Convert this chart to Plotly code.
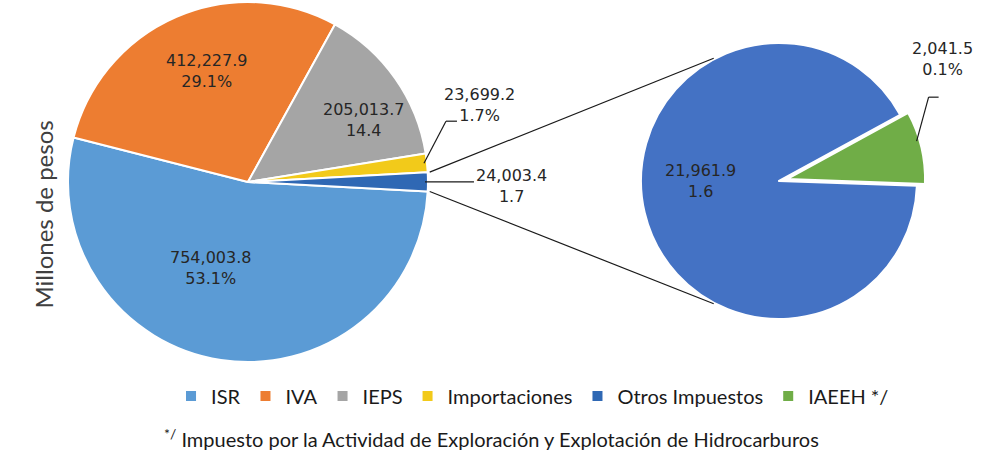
import math
import plotly.graph_objects as go

W, H = 988, 456

# ---- data ----
main_labels = ["ISR", "IVA", "IEPS", "Importaciones", "Otros Impuestos"]
main_values = [754003.8, 412227.9, 205013.7, 23699.2, 24003.4]
main_pct = ["53.1%", "29.1%", "14.4", "1.7%", "1.7"]
main_colors = ["#5B9BD5", "#ED7D31", "#A5A5A5", "#F2CA1A", "#2F68B4"]

sec_labels = ["Otros Impuestos", "IAEEH */"]
sec_values = [21961.9, 2041.5]
sec_pct = ["1.6", "0.1%"]
sec_colors = ["#4472C4", "#70AD47"]
sec_pull = [0, 0.06]

footnote = "<sup>*/</sup> Impuesto por la Actividad de Exploración y Explotación de Hidrocarburos"
ytitle = "Millones de pesos"

# ---- layout of pies (paper domains) ----
main_dom = dict(x=[0.0688, 0.4332], y=[0.2062, 0.9956])
sec_dom = dict(x=[0.6404, 0.9365], y=[0.2823, 0.9239])
main_rot = 93
sec_rot = 92

# inside-label placement: (radius fraction, angle offset in degrees)
main_inside = {0: (0.52, 15), 1: (0.66, 3), 2: (0.73, 7)}
sec_inside = {0: (0.57, 13)}

LABEL_FONT = dict(family="DejaVu Sans", size=16, color="#262626")


def fmt(v):
    return f"{v:,.1f}"


def pie_geom(dom, pull_max=0.0):
    x0, x1 = dom["x"][0] * W, dom["x"][1] * W
    y0, y1 = (1 - dom["y"][1]) * H, (1 - dom["y"][0]) * H
    cx, cy = (x0 + x1) / 2, (y0 + y1) / 2
    r = min(x1 - x0, y1 - y0) / 2 / (1 + pull_max)
    return cx, cy, r


def slice_angles(values, rotation):
    # clockwise from 12 o'clock, direction clockwise
    tot = sum(values)
    out = []
    a = rotation
    for v in values:
        a2 = a + 360 * v / tot
        out.append((a, a2))
        a = a2
    return out


def pt(cx, cy, r, ang_cw_top):
    t = math.radians(ang_cw_top)
    return cx + r * math.sin(t), cy - r * math.cos(t)


def paper(x, y):
    return x / W, 1 - y / H


mcx, mcy, mr = pie_geom(main_dom)
scx, scy, sr = pie_geom(sec_dom, max(sec_pull))
m_ang = slice_angles(main_values, main_rot)
s_ang = slice_angles(sec_values, sec_rot)

main_text = [f"{fmt(v)}<br>{p}" for v, p in zip(main_values, main_pct)]
sec_text = [f"{fmt(v)}<br>{p}" for v, p in zip(sec_values, sec_pct)]

fig = go.Figure()
fig.add_trace(go.Pie(
    labels=main_labels, values=main_values, textinfo="none",
    sort=False, direction="clockwise", rotation=main_rot,
    marker=dict(colors=main_colors, line=dict(color="white", width=2)),
    domain=main_dom, hoverinfo="label+value",
))
fig.add_trace(go.Pie(
    labels=sec_labels, values=sec_values, textinfo="none",
    sort=False, direction="clockwise", rotation=sec_rot, pull=sec_pull,
    marker=dict(colors=sec_colors, line=dict(color="white", width=2)),
    domain=sec_dom, hoverinfo="label+value",
))

shapes = []
annots = []
line_style = dict(color="#1a1a1a", width=1.2)


def seg(p, q):
    a = paper(*p)
    b = paper(*q)
    shapes.append(dict(type="line", xref="paper", yref="paper",
                       x0=a[0], y0=a[1], x1=b[0], y1=b[1], line=line_style))


def label(xpx, ypx, txt, xanchor="center", yanchor="middle"):
    x, y = paper(xpx, ypx)
    annots.append(dict(x=x, y=y, xref="paper", yref="paper", text=txt, showarrow=False,
                       xanchor=xanchor, yanchor=yanchor, align="center",
                       font=LABEL_FONT))


# inside labels
for i, (frac, off) in main_inside.items():
    a = sum(m_ang[i]) / 2 + off
    x, y = pt(mcx, mcy, mr * frac, a)
    label(x, y, main_text[i])
for i, (frac, off) in sec_inside.items():
    a = sum(s_ang[i]) / 2 + off
    x, y = pt(scx, scy, sr * frac, a)
    label(x, y, sec_text[i])

# connector lines main Otros slice -> secondary pie
o0, o1 = m_ang[4]
seg(pt(mcx, mcy, mr + 2, o0), pt(scx, scy, sr + 1, 360 - 28))
seg(pt(mcx, mcy, mr + 2, o1), pt(scx, scy, sr + 1, 180 + 28))

# Importaciones label
a = sum(m_ang[3]) / 2
p0 = pt(mcx, mcy, mr - 3, a)
p1 = (p0[0] + 22, p0[1] - 42)
p2 = (p1[0] + 11, p1[1])
seg(p0, p1)
seg(p1, p2)
label(p2[0] + 23, p2[1] - 16, main_text[3])

# Otros Impuestos (main) label
a = sum(m_ang[4]) / 2
p0 = pt(mcx, mcy, mr - 3, a)
p1 = (p0[0] + 49, p0[1])
seg(p0, p1)
label(p1[0] + 38, p1[1] + 4, main_text[4])

# IAEEH label
a = sum(s_ang[1]) / 2
pcx, pcy = pt(scx, scy, sr * sec_pull[1], a)
p0 = pt(pcx, pcy, sr - 3, a - 3)
p1 = (p0[0] + 12, p0[1] - 44)
p2 = (p1[0] + 10, p1[1])
seg(p0, p1)
seg(p1, p2)
label(p2[0] + 4, p2[1] - 38, sec_text[1])

# y title
x, y = paper(26, 215)
annots.append(dict(x=x, y=y, xref="paper", yref="paper", text=ytitle, showarrow=False,
                   textangle=-90, font=dict(family="Lato", size=24, color="#404040")))
# footnote
x, y = paper(491, 453)
annots.append(dict(x=x, y=y, xref="paper", yref="paper", text=footnote, showarrow=False,
                   yanchor="bottom",
                   font=dict(family="Lato", size=20, color="#1a1a1a")))

fig.update_layout(
    width=W, height=H, margin=dict(l=0, r=0, t=0, b=0),
    paper_bgcolor="white", plot_bgcolor="white",
    showlegend=True,
    legend=dict(orientation="h", x=0.539, xanchor="center", y=1 - 396 / H, yanchor="middle",
                font=dict(family="Lato", size=20, color="#1a1a1a"),
                itemwidth=30, traceorder="normal"),
    shapes=shapes, annotations=annots,
)
fig.write_html("out.html", config={"displayModeBar": False},
               post_script="document.body.style.margin='0px';")
